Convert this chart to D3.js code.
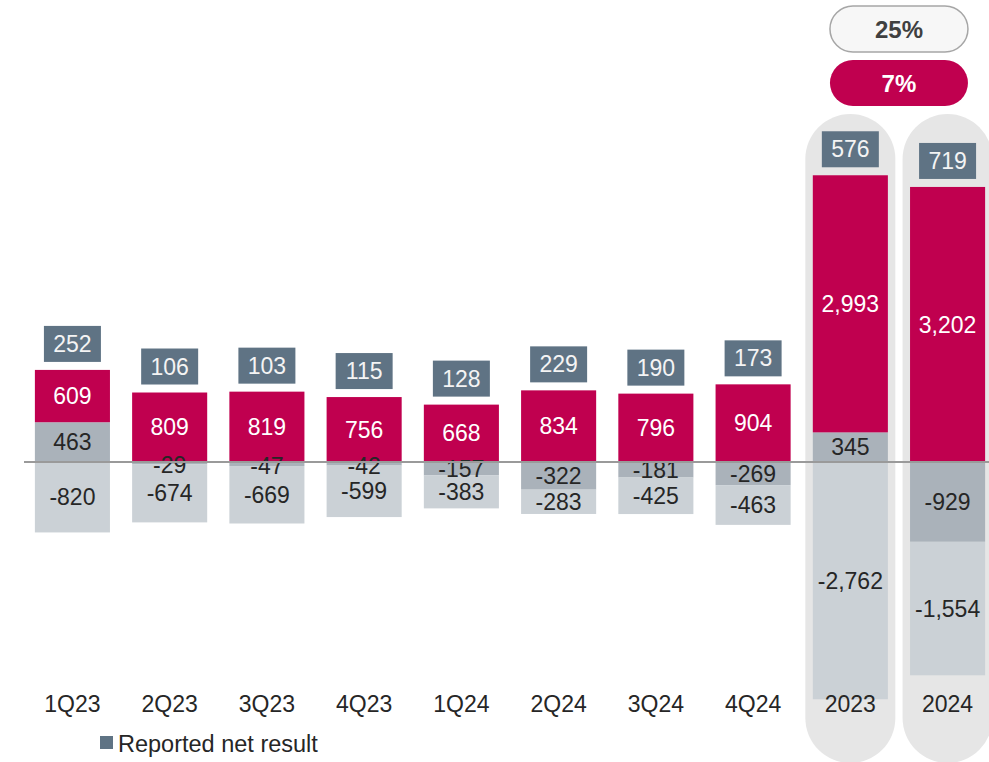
<!DOCTYPE html>
<html lang="en">
<head>
    <meta charset="UTF-8">
    <title>Reported net result</title>
    <script src="https://d3js.org/d3.v7.min.js"></script>
    <style>
        body { margin: 0; background: #fff; }
        svg { display: block; font-family: "Liberation Sans", Arial, sans-serif; }
        .seg-label { font-size: 23px; text-anchor: middle; }
        .cat-label { font-size: 23px; fill: #262626; text-anchor: middle; }
    </style>
</head>
<body>
    <div id="chart"></div>
    <script>
        // Dados
        const categories = ["1Q23", "2Q23", "3Q23", "4Q23", "1Q24", "2Q24", "3Q24", "4Q24", "2023", "2024"];
        const mainValues = [609, 809, 819, 756, 668, 834, 796, 904, 2993, 3202];
        const secondValues = [463, -29, -47, -42, -157, -322, -181, -269, 345, -929];
        const thirdValues = [-820, -674, -669, -599, -383, -283, -425, -463, -2762, -1554];
        const netResult = [252, 106, 103, 115, 128, 229, 190, 173, 576, 719];
        const yearCats = ["2023", "2024"];
        const growthLabels = ["25%", "7%"];

        const width = 989, height = 762;
        const crimson = "#c0004f";

        const fmt = d3.formatLocale({ decimal: ".", thousands: ",", grouping: [3], currency: ["", ""], minus: "-" }).format(",");

        const svg = d3.select("#chart").append("svg")
            .attr("width", width)
            .attr("height", height);

        const x = d3.scaleBand()
            .domain(categories)
            .range([23.8, 996.2])
            .paddingInner(0.228)
            .paddingOuter(0.114);

        const y = d3.scaleLinear()
            .domain([-3000, 3500])
            .range([462 + 3000 * 0.0859, 462 - 3500 * 0.0859]);

        // Fundo das colunas anuais
        svg.selectAll(".pill")
            .data(yearCats)
            .enter().append("rect")
            .attr("x", d => x(d) + x.bandwidth() / 2 - 45)
            .attr("y", 114)
            .attr("width", 90)
            .attr("height", 649)
            .attr("rx", 45)
            .attr("fill", "#e6e6e6");

        // Segmentos empilhados
        const segs = [];
        categories.forEach((c, i) => {
            let pos = 0, neg = 0;
            [[secondValues[i], "second"], [mainValues[i], "main"], [thirdValues[i], "third"]].forEach(([v, key]) => {
                let y0, y1;
                if (v >= 0) { y0 = pos; y1 = pos + v; pos = y1; }
                else { y0 = neg; y1 = neg + v; neg = y1; }
                segs.push({ cat: c, key, v, y0, y1 });
            });
        });

        const fills = { main: crimson, second: "#aab2ba", third: "#cbd1d6" };

        svg.selectAll(".seg")
            .data(segs)
            .enter().append("rect")
            .attr("x", d => x(d.cat))
            .attr("width", x.bandwidth())
            .attr("y", d => Math.min(y(d.y0), y(d.y1)))
            .attr("height", d => Math.abs(y(d.y0) - y(d.y1)))
            .attr("fill", d => fills[d.key]);

        svg.selectAll(".seg-label")
            .data(segs)
            .enter().append("text")
            .attr("class", "seg-label")
            .attr("x", d => x(d.cat) + x.bandwidth() / 2)
            .attr("y", d => (y(d.y0) + y(d.y1)) / 2 + (Math.abs(d.v) < 60 ? 2 : 0))
            .attr("dy", "0.35em")
            .attr("fill", d => d.key === "main" ? "#ffffff" : "#262626")
            .text(d => fmt(d.v));

        // Linha do zero
        svg.append("line")
            .attr("x1", 24).attr("x2", width)
            .attr("y1", y(0)).attr("y2", y(0))
            .attr("stroke", "#9a9a9a")
            .attr("stroke-width", 2);

        // Caixas do resultado líquido
        const tops = categories.map((c, i) => y(Math.max(0, secondValues[i]) + mainValues[i]));
        const boxes = svg.selectAll(".net")
            .data(categories)
            .enter().append("g")
            .attr("transform", (d, i) => `translate(${x(d) + x.bandwidth() / 2},${tops[i] - 8})`);
        boxes.append("rect")
            .attr("x", -28.5).attr("y", -36)
            .attr("width", 57).attr("height", 36)
            .attr("fill", "#5f7384");
        boxes.append("text")
            .attr("class", "seg-label")
            .attr("y", -18)
            .attr("dy", "0.35em")
            .attr("fill", "#f4f4f4")
            .text((d, i) => fmt(netResult[i]));

        // Rótulos das categorias
        svg.selectAll(".cat-label")
            .data(categories)
            .enter().append("text")
            .attr("class", "cat-label")
            .attr("x", d => x(d) + x.bandwidth() / 2)
            .attr("y", 712)
            .text(d => d);

        // Pílulas de crescimento
        const cx = (x("2023") + x("2024") + x.bandwidth()) / 2;
        const pills = [
            { label: growthLabels[0], y: 6, fill: "#f7f7f7", stroke: "#a6a6a6", color: "#404040" },
            { label: growthLabels[1], y: 60, fill: crimson, stroke: "none", color: "#ffffff" }
        ];
        const pg = svg.selectAll(".growth")
            .data(pills)
            .enter().append("g")
            .attr("transform", d => `translate(${cx},${d.y})`);
        pg.append("rect")
            .attr("x", -69).attr("width", 138)
            .attr("height", 46).attr("rx", 23)
            .attr("fill", d => d.fill)
            .attr("stroke", d => d.stroke)
            .attr("stroke-width", 1.5);
        pg.append("text")
            .attr("y", 23).attr("dy", "0.36em")
            .attr("text-anchor", "middle")
            .attr("font-size", "24px")
            .attr("font-weight", "bold")
            .attr("fill", d => d.color)
            .text(d => d.label);

        // Legenda
        svg.append("rect")
            .attr("x", 100).attr("y", 736)
            .attr("width", 13).attr("height", 13)
            .attr("fill", "#5f7384");
        svg.append("text")
            .attr("x", 118).attr("y", 752)
            .attr("font-size", "23.5px")
            .attr("fill", "#262626")
            .text("Reported net result");
    </script>
</body>
</html>
